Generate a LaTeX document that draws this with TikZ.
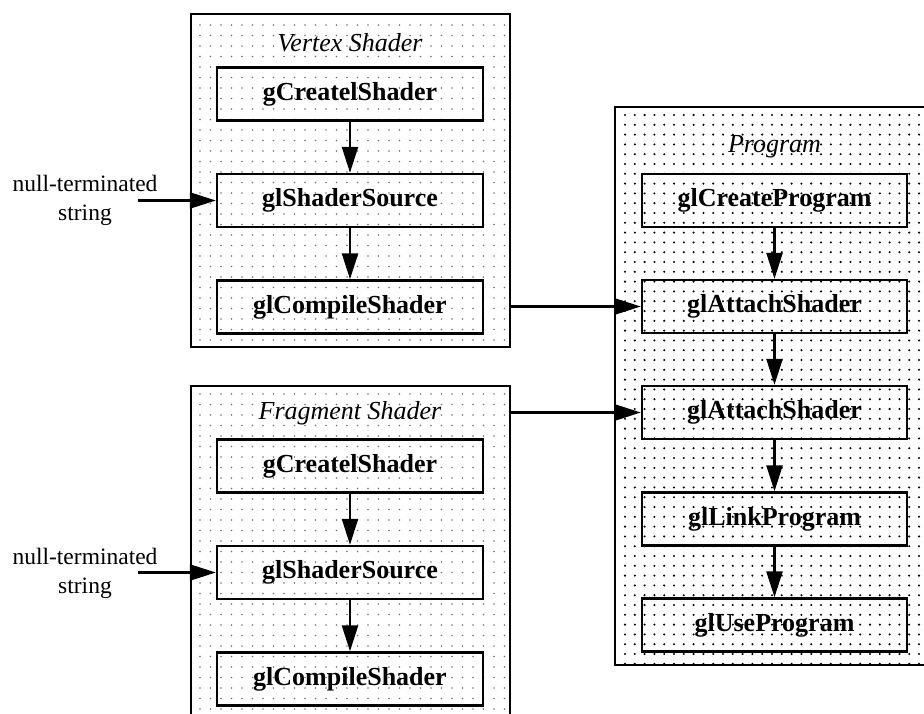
\documentclass[tikz,border=0pt]{standalone}
\usepackage{fontspec}
\setmainfont{Liberation Serif}
\usetikzlibrary{arrows.meta,backgrounds}

\tikzset{
  group/.style={draw, line width=2pt, inner sep=0pt},
  call/.style={draw, line width=2.4pt, inner sep=0pt, minimum width=266pt,
    minimum height=53pt, font=\fontsize{26}{30}\selectfont\bfseries},
  grouptitle/.style={inner sep=0pt, font=\fontsize{26}{30}\selectfont\itshape},
  flow/.style={line width=2.4pt, -{Triangle[length=26pt,width=16pt]}},
  source/.style={align=center, inner sep=0pt, font=\fontsize{23.5}{29}\selectfont}
}

\begin{document}
\begin{tikzpicture}[x=1pt, y=-1pt]
    \useasboundingbox (0,0) rectangle (924,713);

    % Gruppen
    \node[group, minimum width=319pt, minimum height=333pt] (vs) at (350.5,180.5) {};
    \node[group, minimum width=319pt, minimum height=344pt] (fs) at (350.5,558) {};
    \node[group, minimum width=311pt, minimum height=558pt] (prog) at (770.5,386) {};

    % Punktraster
    \begin{scope}[on background layer]
      \begin{scope}
        \clip (vs.south west) rectangle (vs.north east);
        \foreach \x in {200,210.5,...,510}
          \foreach \y in {25,35.5,...,347}
            \fill[black!55] (\x,\y) circle (0.85pt);
      \end{scope}
      \begin{scope}
        \clip (fs.south west) rectangle (fs.north east);
        \foreach \x in {200,210.5,...,510}
          \foreach \y in {394,404.5,...,713}
            \fill[black!55] (\x,\y) circle (0.85pt);
      \end{scope}
      \begin{scope}
        \clip (prog.south west) rectangle (prog.north east);
        \foreach \x in {625,634.8,...,924}
          \foreach \y in {115,124.8,...,665}
            \fill (\x,\y) circle (1.15pt);
      \end{scope}
    \end{scope}

    % Vertex Shader
    \node[grouptitle] (vsTitle) at (350,43) {Vertex Shader};
    \node[call] (vsCreate) at (350,94) {gCreatelShader};
    \node[call] (vsSource) at (350,200.5) {glShaderSource};
    \node[call] (vsCompile) at (350,307) {glCompileShader};
    \draw[flow] (vsCreate) -- (vsSource);
    \draw[flow] (vsSource) -- (vsCompile);

    % Fragment Shader
    \node[grouptitle] (fsTitle) at (350,413) {Fragment Shader};
    \node[call] (fsCreate) at (350,466) {gCreatelShader};
    \node[call] (fsSource) at (350,572.5) {glShaderSource};
    \node[call] (fsCompile) at (350,679) {glCompileShader};
    \draw[flow] (fsCreate) -- (fsSource);
    \draw[flow] (fsSource) -- (fsCompile);

    % Program
    \node[grouptitle] (progTitle) at (774.5,147) {Program};
    \node[call, minimum width=265pt] (create) at (774.5,200.5) {glCreateProgram};
    \node[call, minimum width=265pt] (attachVs) at (774.5,306.5) {glAttachShader};
    \node[call, minimum width=265pt] (attachFs) at (774.5,412.5) {glAttachShader};
    \node[call, minimum width=265pt] (link) at (774.5,519) {glLinkProgram};
    \node[call, minimum width=265pt] (use) at (774.5,625) {glUseProgram};
    \draw[flow] (create) -- (attachVs);
    \draw[flow] (attachVs) -- (attachFs);
    \draw[flow] (attachFs) -- (link);
    \draw[flow] (link) -- (use);

    % Quelltext-Eingaben
    \node[source] (vsText) at (85,200) {null-terminated\\string};
    \node[source] (fsText) at (85,573) {null-terminated\\string};
    \coordinate (vsIn) at (138,200.5);
    \coordinate (fsIn) at (138,572.5);
    \draw[flow] (vsIn) -- (vsSource);
    \draw[flow] (fsIn) -- (fsSource);

    % Shader an Program anhaengen
    \draw[flow] (vs.east |- attachVs) -- (attachVs);
    \draw[flow] (fs.east |- attachFs) -- (attachFs);
\end{tikzpicture}
\end{document}
